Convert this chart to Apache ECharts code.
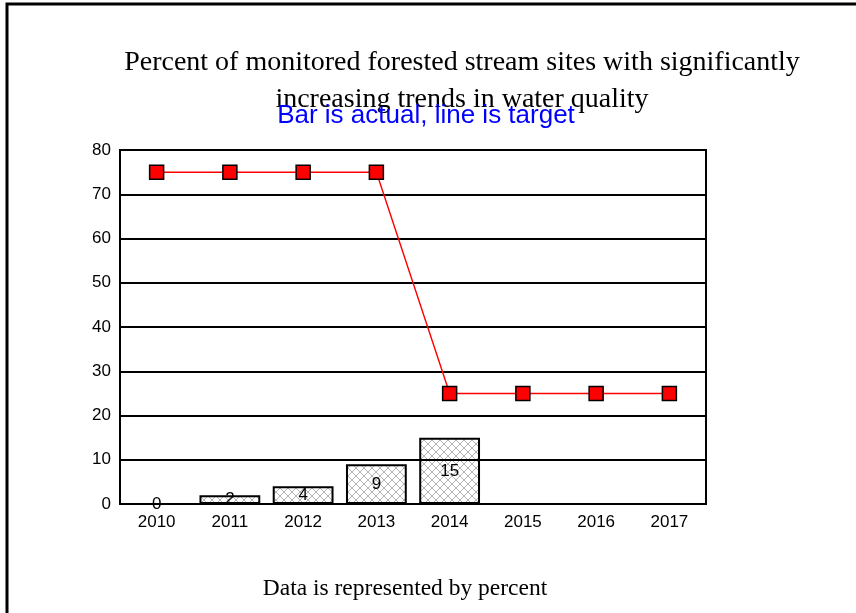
<!DOCTYPE html>
<html><head><meta charset="utf-8">
<script src="https://cdn.jsdelivr.net/npm/echarts@6/dist/echarts.min.js"></script>
<style>html,body{margin:0;padding:0;background:#fff}#c{width:856px;height:613px}</style>
</head><body><div id="c"></div>
<script>
var categories = ['2010','2011','2012','2013','2014','2015','2016','2017'];
var actual = [0, 2, 4, 9, 15, null, null, null];
var target = [75, 75, 75, 75, 25, 25, 25, 25];
var yTicks = [0, 10, 20, 30, 40, 50, 60, 70, 80];

function hatch(){
  var c = document.createElement('canvas');
  c.width = 8; c.height = 8;
  var g = c.getContext('2d');
  g.fillStyle = '#fff'; g.fillRect(0,0,8,8);
  g.strokeStyle = '#b4b4b4'; g.lineWidth = 1;
  g.beginPath();
  g.moveTo(0,0); g.lineTo(8,8);
  g.moveTo(8,0); g.lineTo(0,8);
  g.stroke();
  return c;
}

var chart = echarts.init(document.getElementById('c'), null, {renderer:'canvas'});
chart.setOption({
  animation: false,
  backgroundColor: '#fff',
  title: [
    {text: 'Percent of monitored forested stream sites with significantly\nincreasing trends in water quality',
     left: 457, top: 39, textAlign: 'center',
     textStyle: {fontFamily: 'Liberation Serif', fontWeight: 'normal', fontSize: 28, color: '#000', lineHeight: 37}},
    {text: 'Bar is actual, line is target', left: 421, top: 98, textAlign: 'center',
     textStyle: {fontFamily: 'Liberation Sans', fontWeight: 'normal', fontSize: 26, color: '#0000ff'}},
    {text: 'Data is represented by percent', left: 400, top: 572, textAlign: 'center',
     textStyle: {fontFamily: 'Liberation Serif', fontWeight: 'normal', fontSize: 23.5, color: '#000'}}
  ],
  graphic: [{type:'rect', shape:{x:7, y:4, width:900, height:700}, style:{fill:null, stroke:'#000', lineWidth:3}, z:100}],
  grid: {left: 120, right: 150, top: 150, bottom: 109, containLabel: false,
         show: true, borderColor: '#000', borderWidth: 2, backgroundColor: 'transparent'},
  xAxis: {type: 'category', data: categories, boundaryGap: true,
    axisLine: {show: true, lineStyle: {color: '#000', width: 2}},
    axisTick: {show: false},
    axisLabel: {fontFamily: 'Liberation Sans', fontSize: 17, color: '#000', margin: 10}},
  yAxis: {type: 'value', min: 0, max: 80, interval: 10, z: 3,
    axisLine: {show: true, lineStyle: {color: '#000', width: 2}},
    axisTick: {show: false},
    splitLine: {show: true, lineStyle: {color: '#000', width: 2}},
    axisLabel: {fontFamily: 'Liberation Sans', fontSize: 17, color: '#000', margin: 9,
      formatter: function(v){ return yTicks.indexOf(v) >= 0 ? String(v) : ''; }}},
  series: [
    {type: 'bar', data: actual, barWidth: '83%', z: 1,
     itemStyle: {color: {image: hatch(), repeat: 'repeat'}, borderColor: '#000', borderWidth: 2},
     label: {show: true, position: 'inside', fontFamily: 'Liberation Sans', fontSize: 17, color: '#000',
       formatter: function(p){ return p.value == null ? '' : String(p.value); }}},
    {type: 'line', data: target, z: 5, symbol: 'rect', symbolSize: 14,
     lineStyle: {color: '#ff0000', width: 1.5},
     itemStyle: {color: '#ff0000', borderColor: '#000', borderWidth: 1.5}}
  ]
});
</script></body></html>
